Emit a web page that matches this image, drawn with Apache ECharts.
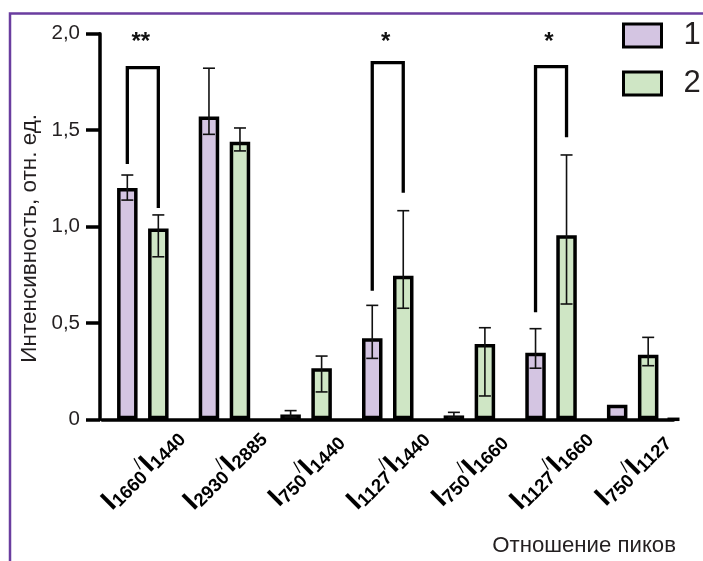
<!DOCTYPE html>
<html>
<head>
<meta charset="utf-8">
<script src="https://cdn.jsdelivr.net/npm/echarts@6/dist/echarts.min.js"></script>
<style>
html,body{margin:0;padding:0;background:#fff;}
#chart{width:703px;height:561px;}
</style>
</head>
<body>
<div id="chart"></div>
<script>
// ---- data ----
const categories = ['I1660/I1440', 'I2930/I2885', 'I750/I1440', 'I1127/I1440', 'I750/I1660', 'I1127/I1660', 'I750/I1127'];
const seriesNames = ['1', '2'];
const values1 = [1.20, 1.57, 0.025, 0.42, 0.02, 0.345, 0.075];
const values2 = [0.99, 1.44, 0.265, 0.745, 0.39, 0.955, 0.335];
const err1Low  = [1.137, 1.478, 0.012, 0.316, 0.010, 0.265, null];
const err1High = [1.267, 1.821, 0.045, 0.591, 0.036, 0.470, null];
const err2Low  = [0.843, 1.392, 0.142, 0.576, 0.121, 0.598, 0.278];
const err2High = [1.060, 1.511, 0.328, 1.082, 0.475, 1.371, 0.425];
const sigCategory    = [0, 3, 5];
const sigLeftBottom  = [1.324, 0.667, 0.555];
const sigTop         = [1.824, 1.850, 1.829];
const sigRightBottom = [1.096, 1.175, 1.463];
const sigLabels      = ['**', '*', '*'];
const sigLabelLevel  = 1.955;
const yAxisTitle = 'Интенсивность, отн. ед.';
const xAxisTitle = 'Отношение пиков';

// ---- style / layout ----
const FONT = 'Liberation Sans, Arial, sans-serif';
const TXT = '#231f20';
const PURPLE = '#d4c5e2';
const GREEN = '#cfe6c5';
const BAR_W = 20.5;
const BAR_GAP_PX = 10.5;
const OFF = (BAR_W + BAR_GAP_PX) / 2;

function catLabel(v) {
  const m = v.match(/^I(\d+)\/I(\d+)$/);
  return '{I|I}{s|' + m[1] + '}{sl|/}{I|I}{s|' + m[2] + '}';
}

function errRender(sign) {
  return function (params, api) {
    const c = api.value(0);
    const x = api.coord([c, 0])[0] + sign * OFF;
    const yl = api.coord([c, api.value(1)])[1];
    const yh = api.coord([c, api.value(2)])[1];
    const st = { stroke: '#111', lineWidth: 1.6 };
    const hw = 6;
    return {
      type: 'group',
      children: [
        { type: 'line', shape: { x1: x, y1: yl, x2: x, y2: yh }, style: st },
        { type: 'line', shape: { x1: x - hw, y1: yh, x2: x + hw, y2: yh }, style: st },
        { type: 'line', shape: { x1: x - hw, y1: yl, x2: x + hw, y2: yl }, style: st }
      ]
    };
  };
}

function errData(low, high) {
  const out = [];
  categories.forEach((c, i) => { if (low[i] != null && high[i] != null) out.push([i, low[i], high[i]]); });
  return out;
}

const chart = echarts.init(document.getElementById('chart'), null, { renderer: 'canvas' });
chart.setOption({
  animation: false,
  backgroundColor: '#fff',
  textStyle: { fontFamily: FONT },
  grid: { left: 102, top: 33.7, width: 571.5, height: 385.6, outerBoundsMode: 'none', containLabel: false },
  legend: {
    data: seriesNames,
    orient: 'vertical',
    left: 617, top: 15,
    icon: 'rect',
    itemWidth: 38, itemHeight: 23, itemGap: 17,
    itemStyle: { borderColor: '#000', borderWidth: 3 },
    textStyle: { fontSize: 31, color: TXT, fontFamily: FONT, padding: [0, 0, 0, 17] }
  },
  xAxis: {
    type: 'category',
    data: categories,
    axisLine: { lineStyle: { color: '#000', width: 3.5 }, symbol: ['none', 'rect'], symbolSize: [3.5, 12] },
    axisTick: { show: false },
    axisLabel: {
      interval: 0, rotate: 45, margin: 50, align: 'center', verticalAlign: 'middle',
      color: '#000',
      formatter: catLabel,
      rich: {
        I: { fontSize: 28, fontWeight: 'bold', color: '#000', fontFamily: FONT, lineHeight: 30, verticalAlign: 'middle' },
        s: { fontSize: 18.5, fontWeight: 'bold', color: '#000', fontFamily: FONT, lineHeight: 19, verticalAlign: 'bottom' },
        sl: { fontSize: 17, color: '#000', fontFamily: FONT, lineHeight: 19, verticalAlign: 'top' }
      }
    }
  },
  yAxis: {
    type: 'value', min: 0, max: 2, interval: 0.5, offset: 2,
    splitLine: { show: false },
    axisLine: { show: true, lineStyle: { color: '#000', width: 3.5 } },
    axisTick: { show: true, length: 14, lineStyle: { color: '#000', width: 3.5 } },
    axisLabel: {
      margin: 20, fontSize: 20.5, color: TXT, fontFamily: FONT,
      formatter: v => (v === 0 ? '0' : v.toFixed(1).replace('.', ','))
    }
  },
  graphic: [
    { type: 'polyline', shape: { points: [[10, 561], [10, 13.5], [703, 13.5]] }, style: { stroke: '#6a3d9f', lineWidth: 2.5, fill: null }, silent: true },
    { type: 'text', x: 29.7, y: 238.3, rotation: Math.PI / 2,
      style: { text: yAxisTitle, fontSize: 22.5, fontFamily: FONT, fill: TXT, align: 'center', verticalAlign: 'middle' } },
    { type: 'text', x: 676, y: 545.5,
      style: { text: xAxisTitle, fontSize: 22.2, fontFamily: FONT, fill: TXT, align: 'right', verticalAlign: 'middle' } }
  ],
  series: [
    { name: seriesNames[0], type: 'bar', data: values1, barWidth: BAR_W, barGap: (BAR_GAP_PX / BAR_W * 100) + '%',
      itemStyle: { color: PURPLE, borderColor: '#000', borderWidth: 3.5 }, z: 2 },
    { name: seriesNames[1], type: 'bar', data: values2, barWidth: BAR_W, barGap: (BAR_GAP_PX / BAR_W * 100) + '%',
      itemStyle: { color: GREEN, borderColor: '#000', borderWidth: 3.5 }, z: 2 },
    { type: 'custom', name: 'err1', renderItem: errRender(-1), data: errData(err1Low, err1High), encode: { x: 0, y: [1, 2] }, z: 5 },
    { type: 'custom', name: 'err2', renderItem: errRender(1), data: errData(err2Low, err2High), encode: { x: 0, y: [1, 2] }, z: 5 },
    { type: 'custom', name: 'sig', z: 6,
      data: sigCategory.map((c, i) => [c, sigLeftBottom[i], sigTop[i], sigRightBottom[i], sigLabelLevel, i]),
      encode: { x: 0, y: [1, 2, 3, 4] },
      renderItem: function (params, api) {
        const c = api.value(0);
        const xc = api.coord([c, 0])[0];
        const xl = xc - OFF, xr = xc + OFF;
        const yLB = api.coord([c, api.value(1)])[1];
        const yT = api.coord([c, api.value(2)])[1];
        const yRB = api.coord([c, api.value(3)])[1];
        const yLab = api.coord([c, api.value(4)])[1];
        return {
          type: 'group',
          children: [
            { type: 'polyline', shape: { points: [[xl, yLB], [xl, yT], [xr, yT], [xr, yRB]] },
              style: { stroke: '#000', lineWidth: 3.3, fill: null } },
            { type: 'text', x: xc - 2, y: yLab,
              style: { text: sigLabels[api.value(5)], fontSize: 24, fontWeight: 'bold', fontFamily: FONT, fill: '#111', align: 'center', verticalAlign: 'middle' } }
          ]
        };
      }
    }
  ]
});
</script>
</body>
</html>
